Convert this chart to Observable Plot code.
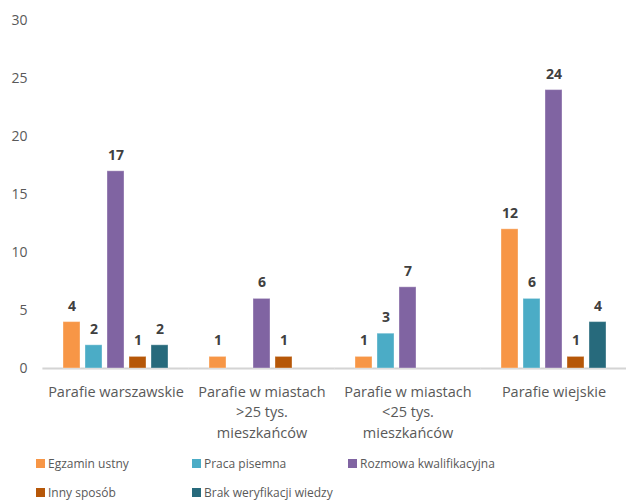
<!DOCTYPE html>
<html>
<head>
<meta charset="utf-8">
<script src="https://cdn.jsdelivr.net/npm/d3@7"></script>
<script src="https://cdn.jsdelivr.net/npm/@observablehq/plot@0.6"></script>
<style>
  html, body { margin: 0; padding: 0; background: #fff; }
  body { width: 626px; height: 500px; overflow: hidden; font-family: "Open Sans", sans-serif; }
  #chart svg { display: block; }
  .legend { display: grid; grid-template-columns: repeat(3, 156px); grid-auto-rows: 29px; padding-left: 36px; padding-top: 4px; }
  .item { display: flex; align-items: center; font-size: 12px; color: #595959; white-space: nowrap; }
  .sw { width: 9px; height: 9px; margin-right: 3px; flex: none; }
</style>
</head>
<body>
<div id="chart"></div>
<script>
const categories = ["Parafie warszawskie", "Parafie w miastach >25 tys. mieszkańców", "Parafie w miastach <25 tys. mieszkańców", "Parafie wiejskie"];
const categoryLabels = ["Parafie warszawskie", "Parafie w miastach\n>25 tys.\nmieszkańców", "Parafie w miastach\n<25 tys.\nmieszkańców", "Parafie wiejskie"];
const series = ["Egzamin ustny", "Praca pisemna", "Rozmowa kwalifikacyjna", "Inny sposób", "Brak weryfikacji wiedzy"];
const egzaminUstny = [4, 1, 1, 12];
const pracaPisemna = [2, 0, 3, 6];
const rozmowaKwalifikacyjna = [17, 6, 7, 24];
const innySposob = [1, 1, 0, 1];
const brakWeryfikacji = [2, 0, 0, 4];
const colors = ["#F79646", "#4BACC6", "#8064A2", "#B65708", "#276A7C"];
const yTicks = [0, 5, 10, 15, 20, 25, 30];

const seriesValues = [egzaminUstny, pracaPisemna, rozmowaKwalifikacyjna, innySposob, brakWeryfikacji];
const data = [];
categories.forEach((c, i) => {
  series.forEach((s, j) => {
    data.push({category: c, series: s, value: seriesValues[j][i]});
  });
});
const shown = data.filter(d => d.value > 0);

const plot = Plot.plot({
  width: 626,
  height: 445,
  marginLeft: 42,
  marginRight: 0,
  marginTop: 20,
  marginBottom: 77,
  style: {fontFamily: "'Open Sans', sans-serif", fontSize: "13px", color: "#595959", background: "#fff"},
  fx: {domain: categories, paddingInner: 0.2, paddingOuter: 0.1, label: null},
  x: {domain: series, padding: 0.22, axis: null},
  y: {domain: [0, 30], label: null},
  color: {domain: series, range: colors},
  marks: [
    Plot.axisY({ticks: yTicks, tickSize: 0, tickPadding: 30, label: null, fontSize: 14, fill: "#595959"}),
    Plot.axisFx({anchor: "bottom", tickSize: 0, tickPadding: 14, label: null, fontSize: 14.5, fill: "#595959", lineHeight: 1.4,
      tickFormat: d => categoryLabels[categories.indexOf(d)]}),
    Plot.ruleY([0], {stroke: "#d4d4d4", strokeWidth: 2, insetLeft: -14.6, insetRight: -14.6}),
    Plot.barY(shown, {fx: "category", x: "series", y: "value", fill: "series", stroke: "#ffffff", strokeOpacity: 0.35}),
    Plot.text(shown, {fx: "category", x: "series", y: "value", text: d => String(d.value), dy: -16,
      fontWeight: "bold", fontSize: 14, fill: "#404040"})
  ]
});
document.getElementById("chart").appendChild(plot);

const legend = document.createElement("div");
legend.className = "legend";
series.forEach((s, j) => {
  const it = document.createElement("div");
  it.className = "item";
  const sw = document.createElement("span");
  sw.className = "sw";
  sw.style.background = colors[j];
  it.appendChild(sw);
  it.appendChild(document.createTextNode(s));
  legend.appendChild(it);
});
document.body.appendChild(legend);
</script>
</body>
</html>
